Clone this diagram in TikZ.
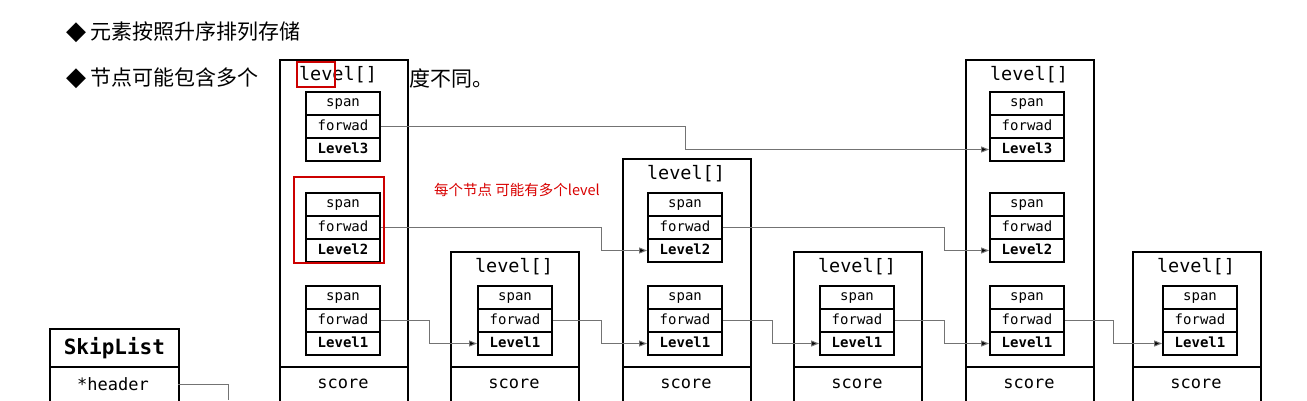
\documentclass[tikz,border=0pt]{standalone}
\usepackage{fontspec}
\usetikzlibrary{arrows.meta}
\newfontfamily\mono{DejaVu Sans Mono}
\newfontfamily\cjk{Noto Sans CJK SC}
\newfontfamily\dvs{DejaVu Sans}
\newcommand\cellgroup[4]{%
 \node[cell] (#1s) at (#2,#3+11.5) {span};
 \node[cell] (#1f) at (#2,#3+34.5) {forwad};
 \node[cell,font=\mono\bfseries\fontsize{14}{15}\selectfont] (#1l) at (#2,#3+57.5) {Level#4};}
\newcommand\skipnode[4]{% name, x left, top, label x offset
 \node[outer,minimum height=366-#3,anchor=north west] (#1) at (#2,#3) {};
 \node[outer,minimum height=44,anchor=north west] (#1sc) at (#2,366) {};
 \node[font=\mono\fontsize{17}{19}\selectfont] (#1sct) at (#2+64,384) {score};
 \node[font=\mono\fontsize{18.5}{20}\selectfont] (#1lv) at (#2+64+#4,#3+16) {level[]};}
\begin{document}
\begin{tikzpicture}[x=1pt,y=-1pt,
 cell/.style={draw,line width=1.8pt,minimum width=74pt,minimum height=23pt,inner sep=0pt,text depth=2pt,font=\mono\fontsize{14}{15}\selectfont},
 outer/.style={draw,line width=1.8pt,fill=white,minimum width=128pt,inner sep=0pt},
 conn/.style={draw=black!55,line width=1pt,-{Triangle[length=8pt,width=6pt,fill=black]}},
 redbox/.style={draw=red!80!black,line width=1.2pt}]
\useasboundingbox (0,0) rectangle (1307,400);
\fill[white] (0,0) rectangle (1307,400);
\node[anchor=west,inner sep=0pt,font=\fontsize{21}{23}\selectfont] (t1) at (66,32) {{\dvs\fontsize{26}{26}\selectfont ◆}\hspace{4pt}\cjk 元素按照升序排列存储};
\node[anchor=west,inner sep=0pt,font=\fontsize{21}{23}\selectfont] (t2) at (66,78) {{\dvs\fontsize{26}{26}\selectfont ◆}\hspace{4pt}\cjk 节点可能包含多个};
\node[anchor=west,inner sep=0pt,font=\fontsize{21}{23}\selectfont] (t3) at (409,78) {\cjk 度不同。};
\skipnode{A}{279}{59}{-5}
\skipnode{B}{450}{251}{0}
\skipnode{C}{622}{158}{0}
\skipnode{D}{793}{251}{0}
\skipnode{E}{965}{59}{0}
\skipnode{F}{1132}{251}{0}
\cellgroup{A3}{343}{92}{3}
\cellgroup{A2}{343}{193}{2}
\cellgroup{A1}{343}{286}{1}
\cellgroup{B1}{515}{286}{1}
\cellgroup{C2}{685}{193}{2}
\cellgroup{C1}{685}{286}{1}
\cellgroup{D1}{857}{286}{1}
\cellgroup{E3}{1027}{92}{3}
\cellgroup{E2}{1027}{193}{2}
\cellgroup{E1}{1027}{286}{1}
\cellgroup{F1}{1200}{286}{1}
% SkipList
\node[draw,line width=1.8pt,minimum width=129pt,minimum height=38pt,inner sep=0pt,anchor=north west,font=\mono\bfseries\fontsize{21}{23}\selectfont] (SL) at (49,328) {SkipList};
\node[draw,line width=1.8pt,minimum width=129pt,minimum height=44pt,inner sep=0pt,anchor=north west] (SH) at (49,366) {};
\node[font=\mono\fontsize{17}{19}\selectfont] (SHt) at (113,384) {*header};
\coordinate (hdown) at (228,400);
\draw[draw=black!55,line width=1pt] (178,384) -| (hdown);
% connectors
\draw[conn] (A3f.east) -- ++(305,0) |- (E3l.west);
\draw[conn] (A2f.east) -- ++(221,0) |- (C2l.west);
\draw[conn] (C2f.east) -- ++(222,0) |- (E2l.west);
\draw[conn] (A1f.east) -- ++(49,0) |- (B1l.west);
\draw[conn] (B1f.east) -- ++(49,0) |- (C1l.west);
\draw[conn] (C1f.east) -- ++(50,0) |- (D1l.west);
\draw[conn] (D1f.east) -- ++(50,0) |- (E1l.west);
\draw[conn] (E1f.east) -- ++(49,0) |- (F1l.west);
% red annotations
\node[redbox,minimum width=38pt,minimum height=25pt,inner sep=0pt] (r1) at (316,74.5) {};
\node[redbox,minimum width=90pt,minimum height=86pt,inner sep=0pt] (r2) at (339,220) {};
\node[anchor=west,inner sep=0pt,text=red!85!black,font=\cjk\fontsize{14.5}{16}\selectfont] (rt) at (434,190) {每个节点 可能有多个level};
\end{tikzpicture}
\end{document}
